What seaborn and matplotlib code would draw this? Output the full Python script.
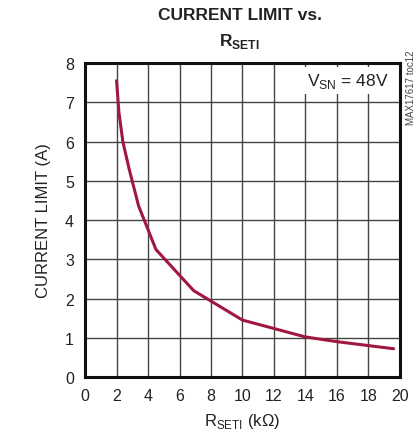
import matplotlib
matplotlib.use("Agg")
import matplotlib.pyplot as plt
import seaborn as sns
import pandas as pd
from matplotlib import font_manager

rset = [2.0, 2.15, 2.4, 2.8, 3.4, 4.5, 6.9, 10.0, 14.0, 16.0, 19.6]
ilim = [7.55, 6.75, 6.0, 5.3, 4.36, 3.25, 2.2, 1.45, 1.02, 0.9, 0.72]
xticks = list(range(0, 21, 2))
yticks = list(range(0, 9))

sns.set_theme(style="white")
names = {f.name for f in font_manager.fontManager.ttflist}
fam = "Liberation Sans Narrow" if "Liberation Sans Narrow" in names else "Liberation Sans"
plt.rcParams['font.family'] = [fam, 'DejaVu Sans']

fig = plt.figure(figsize=(4.17, 4.39), dpi=100)
ax = fig.add_axes([0.204, 0.139, 0.755, 0.715])
df = pd.DataFrame({"R": rset, "I": ilim})
sns.lineplot(data=df, x="R", y="I", ax=ax, color="#a0173f", linewidth=2.2, sort=False)
ax.set_xlim(0, 20)
ax.set_ylim(0, 8)
ax.set_xticks(xticks)
ax.set_yticks(yticks)
ax.tick_params(labelsize=11.5, length=0, pad=8, colors="#222222")
ax.grid(True, color="#444444", linewidth=1.0)
for s in ax.spines.values():
    s.set_visible(True)
    s.set_color("#111111")
    s.set_linewidth(2.2)
ax.set_xlabel(r"R$_{\mathregular{SETI}}$ (kΩ)", fontsize=12, color="#222222", labelpad=6)
ax.set_ylabel("CURRENT LIMIT (A)", fontsize=12, color="#222222", labelpad=10)
fig.text(0.575, 0.965, "CURRENT LIMIT vs.", ha="center", va="center", fontsize=12.5, fontweight="bold", color="#222222")
fig.text(0.575, 0.905, r"R$_{\mathregular{SETI}}$", ha="center", va="center", fontsize=12.5, fontweight="bold", color="#222222")
ax.text(0.965, 0.945, r"V$_{\mathregular{SN}}$ = 48V", transform=ax.transAxes, ha="right", va="center",
        fontsize=12.5, color="#222222", bbox=dict(facecolor="white", edgecolor="none", pad=3))
fig.text(0.985, 0.80, "MAX17617 toc12", rotation=90, ha="center", va="center", fontsize=7, color="#444444")
fig.savefig("out.png", dpi=100)
